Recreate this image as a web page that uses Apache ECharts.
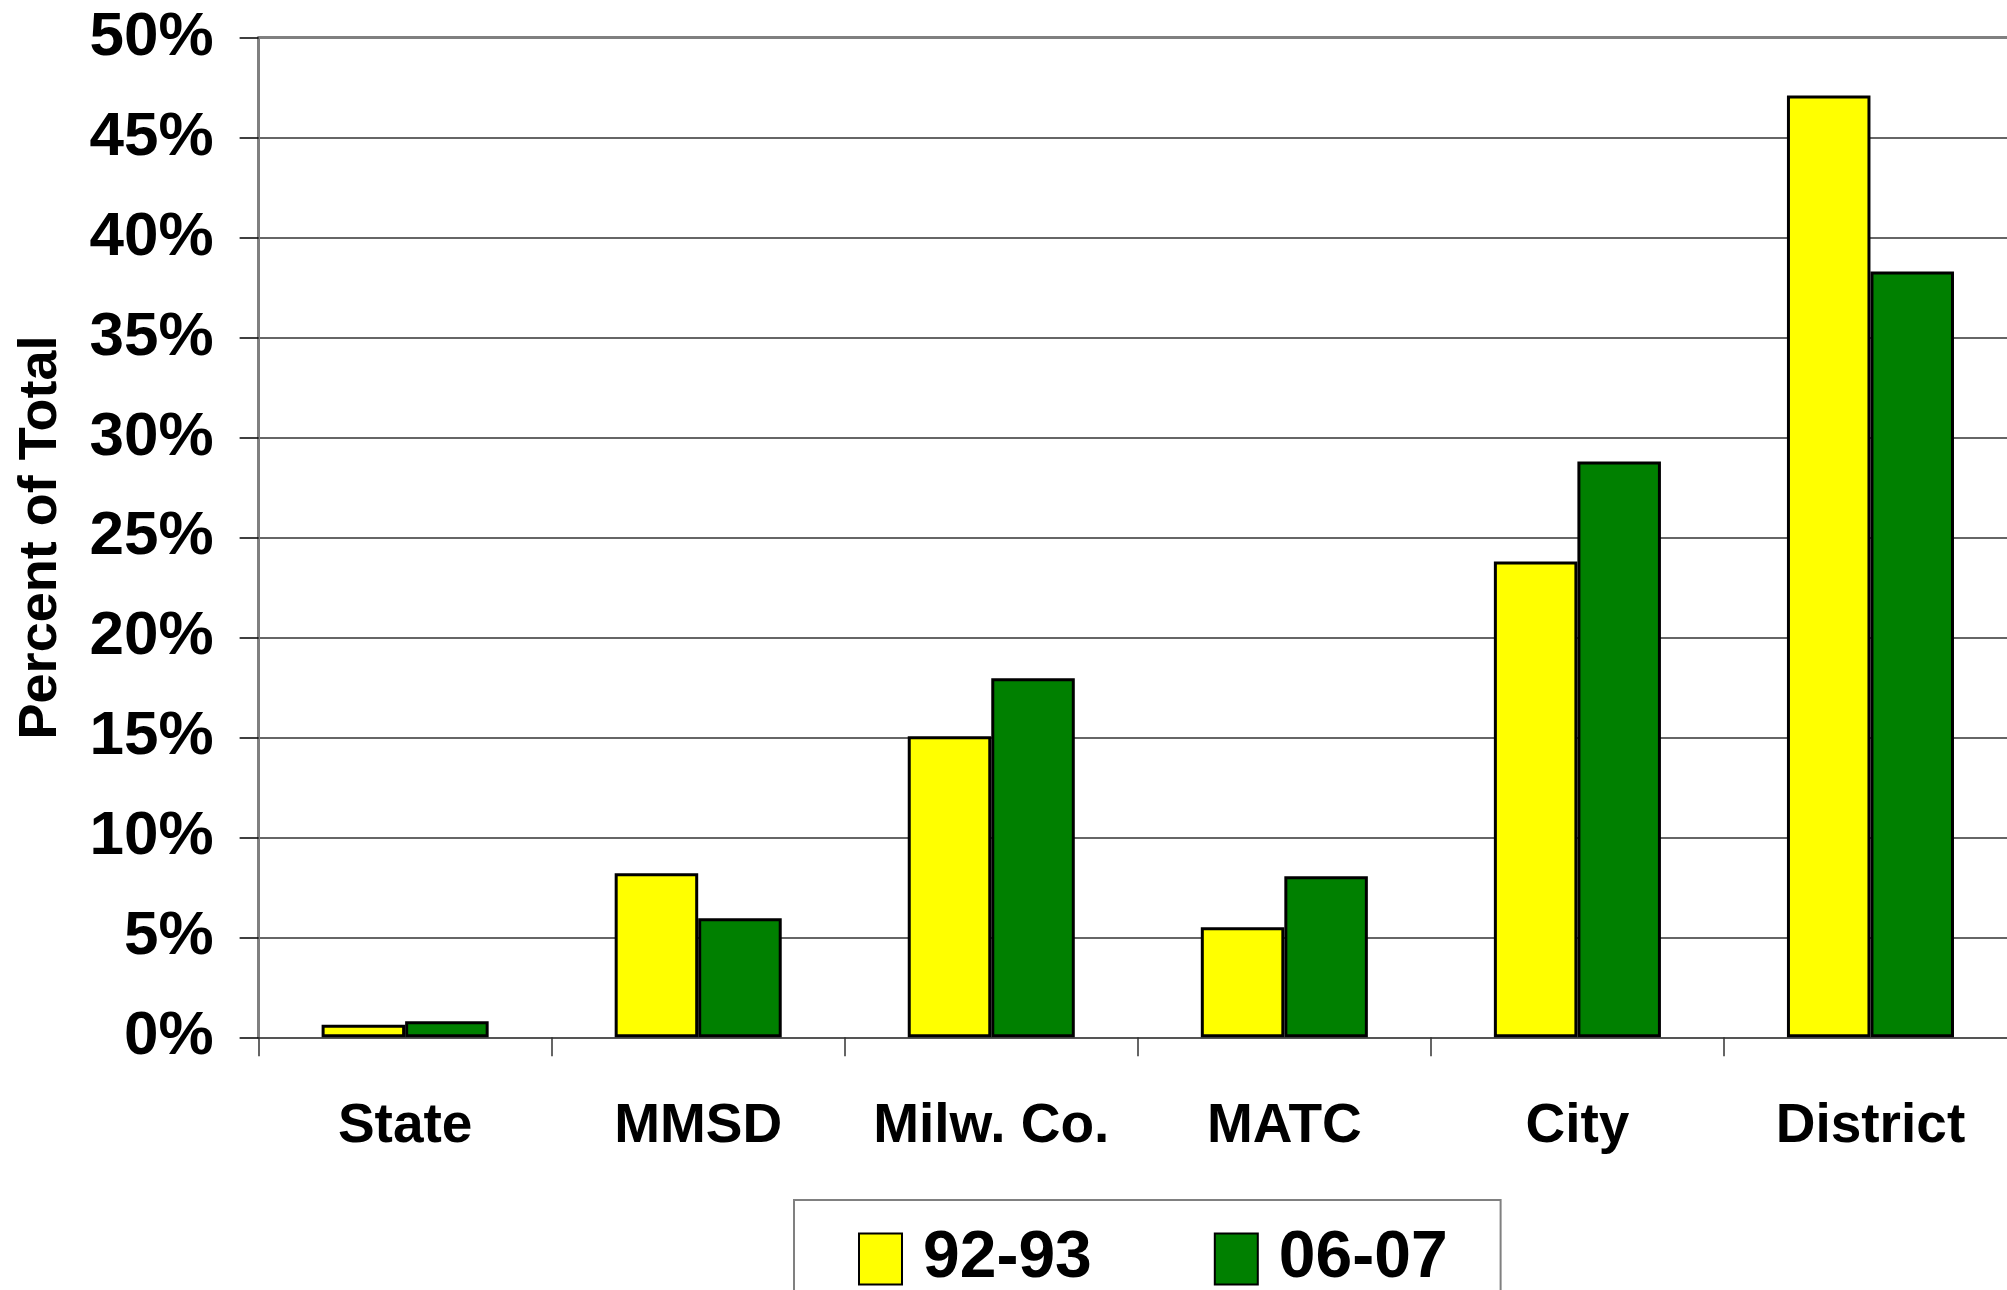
<!DOCTYPE html>
<html>
<head>
<meta charset="utf-8">
<script src="https://cdn.jsdelivr.net/npm/echarts@6/dist/echarts.min.js"></script>
<style>
html,body{margin:0;padding:0;background:#fff;}
#chart{width:2007px;height:1290px;}
</style>
</head>
<body>
<div id="chart"></div>
<script>
const categories = ['State', 'MMSD', 'Milw. Co.', 'MATC', 'City', 'District'];
const series9293 = [0.63, 8.2, 15.05, 5.5, 23.8, 47.1];
const series0607 = [0.8, 5.95, 17.95, 8.05, 28.8, 38.3];
const seriesNames = ['92-93', '06-07'];
const yTicks = [0, 5, 10, 15, 20, 25, 30, 35, 40, 45, 50];

const font = '"Liberation Sans", Arial, sans-serif';
const chart = echarts.init(document.getElementById('chart'));
chart.setOption({
  animation: false,
  backgroundColor: '#ffffff',
  grid: { left: 258.6, top: 37.5, right: -10, bottom: 252.7, containLabel: false, outerBoundsMode: 'none' },
  legend: {
    data: seriesNames,
    left: 794, top: 1200,
    orient: 'horizontal',
    padding: [26, 53, 40, 64],
    itemWidth: 43, itemHeight: 51,
    itemGap: 122,
    borderColor: '#808080', borderWidth: 2,
    icon: 'rect',
    textStyle: { fontFamily: font, fontWeight: 'bold', fontSize: 66, color: '#000', padding: [0, 0, 0, 16] }
  },
  xAxis: [{
    type: 'category',
    data: categories,
    position: 'bottom',
    axisLine: { lineStyle: { color: '#555', width: 2 } },
    axisTick: { show: true, interval: 0, length: 19, lineStyle: { color: '#333', width: 1.5 } },
    axisLabel: { interval: 0, hideOverlap: false, fontFamily: font, fontWeight: 'bold', fontSize: 55, color: '#000', margin: 62, lineHeight: 56 },
    splitLine: { show: false }
  }, {
    type: 'category',
    data: categories,
    position: 'top',
    axisLine: { show: true, lineStyle: { color: '#808080', width: 3 } },
    axisTick: { show: false },
    axisLabel: { show: false }
  }],
  yAxis: {
    type: 'value',
    min: yTicks[0], max: yTicks[yTicks.length - 1], interval: 5,
    name: 'Percent of Total',
    nameLocation: 'middle',
    nameRotate: 90,
    nameGap: 190,
    nameTextStyle: { fontFamily: font, fontWeight: 'bold', fontSize: 54, color: '#000' },
    axisLine: { show: true, lineStyle: { color: '#808080', width: 3 } },
    axisTick: { show: true, length: 19, lineStyle: { color: '#000', width: 1.5 } },
    axisLabel: { fontFamily: font, fontWeight: 'bold', fontSize: 62, color: '#000', margin: 45, formatter: '{value}%' },
    splitLine: { show: true, lineStyle: { color: '#333', width: 1.5 } }
  },
  series: [{
    name: seriesNames[0], type: 'bar', data: series9293,
    barGap: '0%', barCategoryGap: '43%',
    itemStyle: { color: '#FFFF00', borderColor: '#000', borderWidth: 3 }
  }, {
    name: seriesNames[1], type: 'bar', data: series0607,
    barGap: '0%', barCategoryGap: '43%',
    itemStyle: { color: '#008000', borderColor: '#000', borderWidth: 3 }
  }]
});
</script>
</body>
</html>
